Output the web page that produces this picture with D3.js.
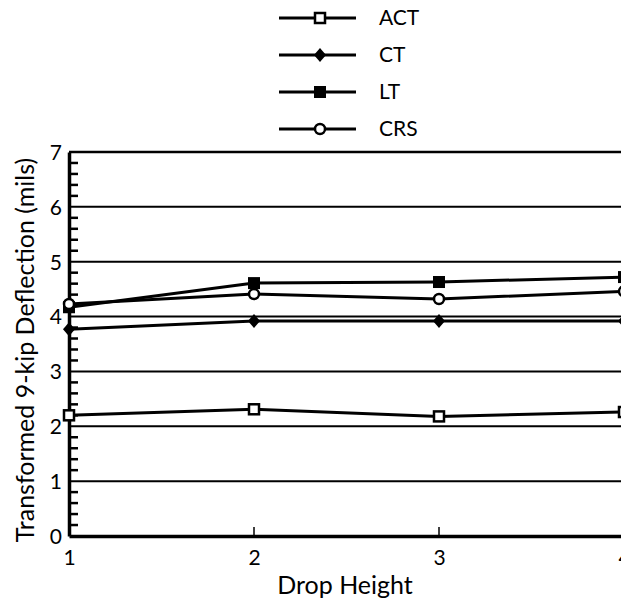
<!DOCTYPE html>
<html>
<head>
<meta charset="utf-8">
<script src="https://cdn.jsdelivr.net/npm/d3@7"></script>
<style>
  html, body { margin: 0; padding: 0; background: #fff; overflow: hidden; }
  svg { display: block; }
  text { font-family: Lato, "Open Sans", sans-serif; fill: #000; }
</style>
</head>
<body>
<svg id="chart" width="621" height="603"></svg>
<script>
// Drop heights on the x axis
const dropHeights = [1, 2, 3, 4];

// Transformed 9-kip deflection (mils) per section type
const seriesNames = ["ACT", "CT", "LT", "CRS"];
const actValues = [2.20, 2.31, 2.18, 2.26];
const ctValues  = [3.77, 3.92, 3.92, 3.92];
const ltValues  = [4.17, 4.61, 4.63, 4.72];
const crsValues = [4.23, 4.41, 4.32, 4.46];

const yTicks = [0, 1, 2, 3, 4, 5, 6, 7];
const xTicks = [1, 2, 3, 4];

const series = [
  { name: "ACT", values: actValues, marker: "openSquare" },
  { name: "CT",  values: ctValues,  marker: "diamond" },
  { name: "LT",  values: ltValues,  marker: "filledSquare" },
  { name: "CRS", values: crsValues, marker: "openCircle" }
];

const svg = d3.select("#chart");

const x = d3.scaleLinear().domain([1, 4]).range([69, 624]);
const y = d3.scaleLinear().domain([0, 7]).range([536, 152]);

// Horizontal grid lines at each whole mil
svg.append("g")
  .selectAll("line")
  .data(yTicks.filter(d => d > 0 && d < 7))
  .join("line")
  .attr("x1", x(1)).attr("x2", x(4))
  .attr("y1", d => y(d)).attr("y2", d => y(d))
  .attr("stroke", "#000").attr("stroke-width", 2);

// Top frame line
svg.append("line")
  .attr("x1", x(1)).attr("x2", x(4))
  .attr("y1", y(7)).attr("y2", y(7))
  .attr("stroke", "#000").attr("stroke-width", 2.5);

// Y axis: major labels plus inward minor ticks every 0.2
const yAxis = d3.axisLeft(y).tickValues(yTicks).tickSize(0).tickPadding(7).tickFormat(d3.format("d"));
const gy = svg.append("g").attr("transform", `translate(${x(1)},0)`).call(yAxis);
gy.select(".domain").attr("stroke", "#000").attr("stroke-width", 3.5);
gy.selectAll("text").style("font-size", "21px").attr("dy", "0.35em");

const minor = d3.range(0, 7.0001, 0.2).filter(v => Math.abs(v - Math.round(v)) > 1e-6);
svg.append("g").selectAll("line")
  .data(minor)
  .join("line")
  .attr("x1", x(1)).attr("x2", x(1) + 9)
  .attr("y1", d => y(d)).attr("y2", d => y(d))
  .attr("stroke", "#000").attr("stroke-width", 2.5);

// X axis with small upward ticks
const xAxis = d3.axisBottom(x).tickValues(xTicks).tickSize(0).tickPadding(14).tickFormat(d3.format("d"));
const gx = svg.append("g").attr("transform", `translate(0,${y(0)})`).call(xAxis);
gx.select(".domain").attr("stroke", "#000").attr("stroke-width", 3.5);
gx.selectAll("text").style("font-size", "21px");
svg.append("g").selectAll("line")
  .data(xTicks.slice(1))
  .join("line")
  .attr("x1", d => x(d)).attr("x2", d => x(d))
  .attr("y1", y(0)).attr("y2", y(0) - 9)
  .attr("stroke", "#000").attr("stroke-width", 1.5);

// Axis titles
svg.append("text")
  .attr("x", 345).attr("y", 594)
  .attr("text-anchor", "middle")
  .style("font-size", "25px")
  .text("Drop Height");

svg.append("text")
  .attr("transform", "translate(34,350) rotate(-90)")
  .attr("text-anchor", "middle")
  .style("font-size", "25px")
  .text("Transformed 9-kip Deflection (mils)");

// Marker drawing
function drawMarker(g, type, cx, cy) {
  if (type === "openSquare") {
    g.append("rect").attr("x", cx - 5).attr("y", cy - 5).attr("width", 10).attr("height", 10)
      .attr("fill", "#fff").attr("stroke", "#000").attr("stroke-width", 2.5);
  } else if (type === "filledSquare") {
    g.append("rect").attr("x", cx - 6).attr("y", cy - 6).attr("width", 12).attr("height", 12)
      .attr("fill", "#000");
  } else if (type === "diamond") {
    g.append("path").attr("d", `M${cx},${cy - 7}L${cx + 6},${cy}L${cx},${cy + 7}L${cx - 6},${cy}Z`)
      .attr("fill", "#000");
  } else if (type === "openCircle") {
    g.append("circle").attr("cx", cx).attr("cy", cy).attr("r", 5)
      .attr("fill", "#fff").attr("stroke", "#000").attr("stroke-width", 2.5);
  }
}

const line = d3.line().x((d, i) => x(dropHeights[i])).y(d => y(d));

const plot = svg.append("g");
series.forEach(s => {
  plot.append("path")
    .attr("d", line(s.values))
    .attr("fill", "none").attr("stroke", "#000").attr("stroke-width", 3);
});
series.forEach(s => {
  const g = plot.append("g");
  s.values.forEach((v, i) => drawMarker(g, s.marker, x(dropHeights[i]), y(v)));
});

// Legend
const legendRows = [18, 55, 92, 129];
const legend = svg.append("g");
series.forEach((s, i) => {
  const ly = legendRows[i];
  legend.append("line").attr("x1", 279).attr("x2", 356).attr("y1", ly).attr("y2", ly)
    .attr("stroke", "#000").attr("stroke-width", 3);
  drawMarker(legend, s.marker, 320, ly);
  legend.append("text").attr("x", 379).attr("y", ly).attr("dy", "0.35em")
    .style("font-size", "21px").text(s.name);
});
</script>
</body>
</html>
